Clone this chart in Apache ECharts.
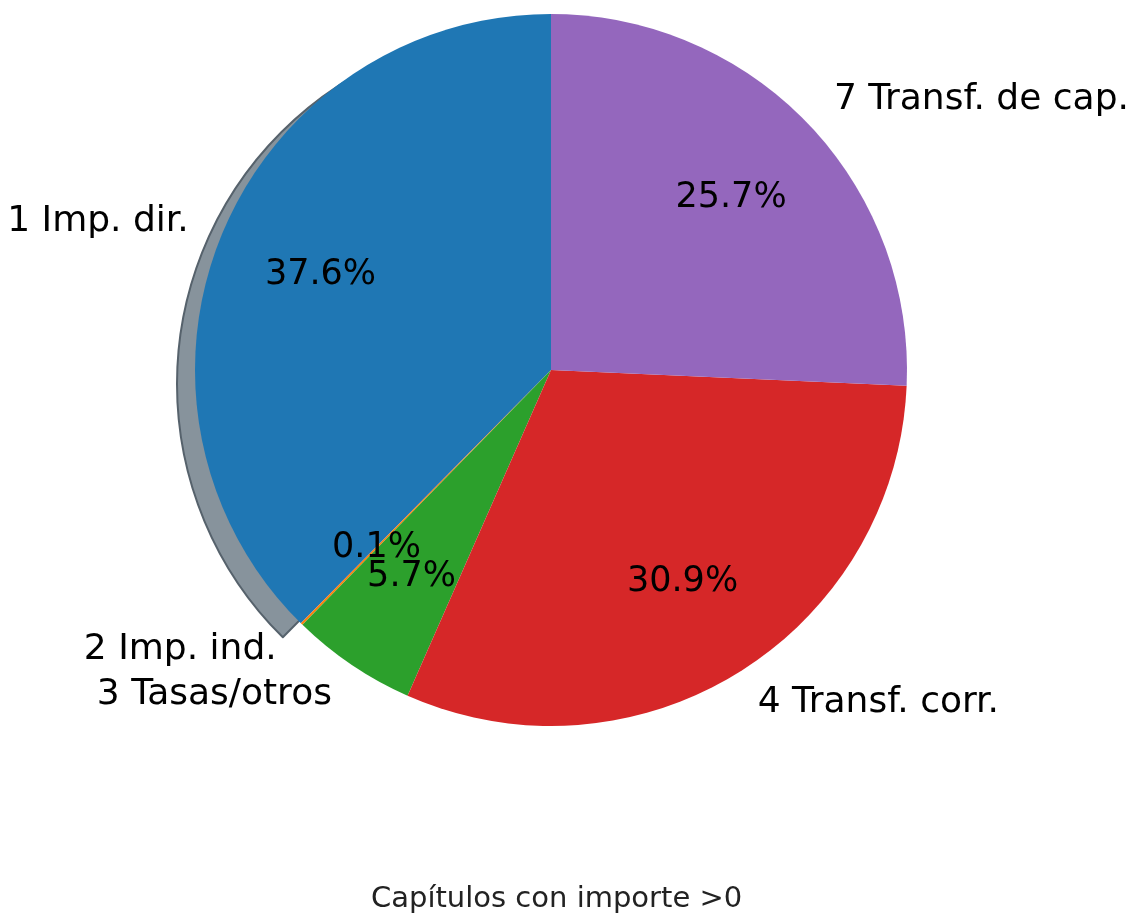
<!DOCTYPE html>
<html>
<head>
<meta charset="utf-8">
<script src="https://cdn.jsdelivr.net/npm/echarts@6/dist/echarts.min.js"></script>
<style>
  html, body { margin: 0; padding: 0; background: #fff; }
  #chart { width: 1135px; height: 913px; }
</style>
</head>
<body>
<div id="chart"></div>
<script>
// capítulos y porcentajes (orden antihorario desde arriba)
const labels = ['1 Imp. dir.', '2 Imp. ind.', '3 Tasas/otros', '4 Transf. corr.', '7 Transf. de cap.']
const values = [37.6, 0.1, 5.7, 30.9, 25.7]
const colors = ['#1f77b4', '#ff7f0e', '#2ca02c', '#d62728', '#9467bd']
const title = 'Capítulos con importe >0'

const FONT = 'DejaVu Sans'
const C = [551, 370], R = 356

const chart = echarts.init(document.getElementById('chart'))

const base = {
  type: 'pie', startAngle: 90, clockwise: false,
  avoidLabelOverlap: false, silent: true, animation: false,
  emphasis: { disabled: true },
}

chart.setOption({
  backgroundColor: '#fff',
  title: {
    text: title, left: 366, top: 880,
    textStyle: { fontFamily: FONT, fontSize: 29, fontWeight: 'normal', color: '#222' },
  },
  series: [
    // sombra (solo visible por el lado izquierdo del sector azul)
    { ...base, z: 1, center: [C[0] - 18, C[1] + 14], radius: R,
      label: { show: false }, labelLine: { show: false },
      data: values.map((v, i) => ({ value: v, name: labels[i],
        itemStyle: i === 0 ? { color: '#87939c', borderColor: '#56626c', borderWidth: 2 } : { color: 'transparent' } })) },
    // sectores + etiquetas de nombre fuera (1.1R)
    { ...base, z: 2, center: C, radius: R,
      label: { show: true, position: 'outside', distanceToLabelLine: 0,
        fontFamily: FONT, fontSize: 36, color: '#000', formatter: p => p.name },
      labelLine: { show: false, length: R * 0.1, length2: 0 },
      labelLayout: { hideOverlap: false },
      data: values.map((v, i) => ({ value: v, name: labels[i], itemStyle: { color: colors[i] } })) },
    // porcentajes centrados a 0.7R
    { ...base, z: 3, center: C, radius: R * 0.7,
      label: { show: true, position: 'outside', distanceToLabelLine: 0,
        fontFamily: FONT, fontSize: 35, color: '#000',
        formatter: p => p.value.toFixed(1) + '%' },
      labelLine: { show: false, length: 0, length2: 0 },
      labelLayout: { hideOverlap: false, align: 'center', verticalAlign: 'middle' },
      data: values.map((v, i) => ({ value: v, name: labels[i], itemStyle: { color: 'transparent' } })) },
  ],
})
</script>
</body>
</html>
